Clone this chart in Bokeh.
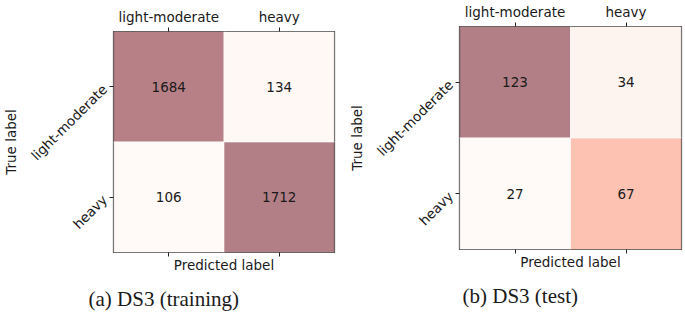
import math
from bokeh.plotting import figure
from bokeh.models import (ColumnDataSource, FactorRange, CategoricalAxis, LinearColorMapper,
                          Title, CustomJSTickFormatter)
from bokeh.layouts import row
from bokeh.palettes import Reds256
from bokeh.core.properties import value
from bokeh.embed import file_html
from bokeh.resources import INLINE

classes = ["light-moderate", "heavy"]
true_labels = ["light-moderate", "light-moderate", "heavy", "heavy"]
pred_labels = ["light-moderate", "heavy", "light-moderate", "heavy"]
train_counts = [1684, 134, 106, 1712]
test_counts = [123, 34, 27, 67]
captions = ["(a) DS3 (training)", "(b) DS3 (test)"]

FONT = "DejaVu Sans"
FS = "13.5px"
INK = "#1a1a1a"


def style_axis(ax):
    ax.axis_line_color = None
    ax.major_tick_line_color = "#222222"
    ax.major_tick_out = 4
    ax.major_tick_in = 0
    ax.minor_tick_line_color = None
    ax.major_label_text_font = FONT
    ax.major_label_text_font_size = FS
    ax.major_label_text_color = INK
    ax.axis_label_text_font = FONT
    ax.axis_label_text_font_size = FS
    ax.axis_label_text_font_style = "normal"
    ax.axis_label_text_color = INK


def panel(counts, caption, left, top, fw, fh, right, bottom, cap_offset):
    p = figure(x_range=FactorRange(*classes), y_range=FactorRange(*classes[::-1]),
               frame_width=fw, frame_height=fh,
               output_backend="svg", toolbar_location=None,
               x_axis_location=None, y_axis_location=None,
               min_border_left=left, min_border_top=top,
               min_border_right=right, min_border_bottom=bottom)
    p.frame_align = False
    mapper = LinearColorMapper(palette=list(reversed(Reds256)), low=min(counts), high=max(counts))
    src = ColumnDataSource(dict(x=pred_labels, y=true_labels, v=counts,
                                t=[str(c) for c in counts]))
    p.rect(x="x", y="y", width=1, height=1, source=src,
           fill_color={"field": "v", "transform": mapper}, fill_alpha=0.5,
           line_color="white", line_alpha=0.6, line_width=1)
    p.text(x="x", y="y", text="t", source=src, text_align="center", text_baseline="middle",
           text_font=value(FONT), text_font_size=FS, text_color=INK)

    p.xgrid.visible = False
    p.ygrid.visible = False
    p.outline_line_color = "#222222"
    p.outline_line_width = 1.2

    top_axis = CategoricalAxis()
    style_axis(top_axis)
    top_axis.major_label_standoff = 3
    p.add_layout(top_axis, "above")

    bottom_axis = CategoricalAxis()
    style_axis(bottom_axis)
    bottom_axis.formatter = CustomJSTickFormatter(code="return ''")
    bottom_axis.major_label_standoff = 0
    bottom_axis.axis_label = "Predicted label"
    bottom_axis.axis_label_standoff = 0
    p.add_layout(bottom_axis, "below")

    left_axis = CategoricalAxis()
    style_axis(left_axis)
    left_axis.major_label_orientation = math.pi / 4
    left_axis.major_label_standoff = 5
    left_axis.axis_label = "True label"
    left_axis.axis_label_standoff = 0
    p.add_layout(left_axis, "left")

    t = Title(text=caption, align="left", offset=cap_offset, text_font="Liberation Serif",
              text_font_size="21px", text_font_style="normal", text_color=INK,
              standoff=18)
    p.add_layout(t, "below")
    return p


p1 = panel(train_counts, captions[0], 112, 31, 221, 221, 9, 62, -25)
p2 = panel(test_counts, captions[1], 116, 25, 222, 223, 5, 66, 3)
layout = row(p1, p2, spacing=0)

open("out.html", "w").write(file_html(layout, INLINE))
